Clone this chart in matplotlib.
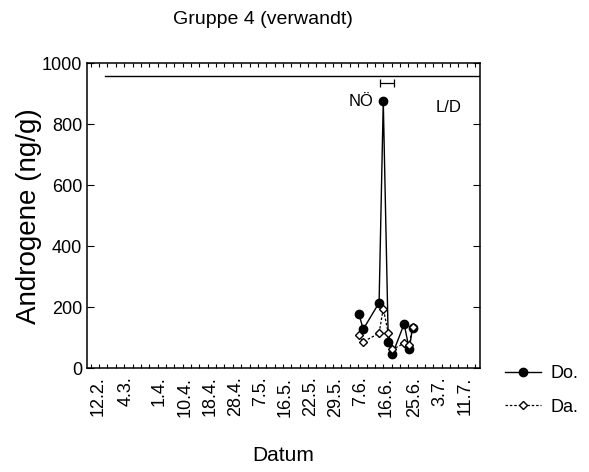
import matplotlib
matplotlib.use("Agg")
import matplotlib.pyplot as plt
from matplotlib.ticker import MultipleLocator

plt.rcParams['font.family'] = ['Liberation Sans', 'DejaVu Sans']

# x axis in sampling units (minor tick = 1 unit), labels are dates
tick_pos = [0.84, 4.2, 8.2, 11.3, 14.3, 17.3, 20.3, 23.3, 26.3, 29.3, 32.3, 35.3, 38.8, 41.8, 44.8]
tick_lab = ['12.2.', '4.3.', '1.4.', '10.4.', '18.4.', '28.4.', '7.5.', '16.5.',
            '22.5.', '29.5.', '7.6.', '16.6.', '25.6.', '3.7.', '11.7.']

x_days = [32.1, 32.6, 34.5, 35.0, 35.6, 36.1, 37.5, 38.1, 38.5]
do_vals = [177, 128, 215, 876, 86, 46, 146, 62, 132]
da_vals = [109, 87, 115, 196, 115, 62, 82, 77, 134]

line_y = 958
line_x0 = 1.7
err_x = [34.56, 36.32]
err_y = 937

fig = plt.figure(figsize=(5.89, 4.72), dpi=100)
ax = fig.add_axes([0.1477, 0.2197, 0.8153 - 0.1477, 0.8655 - 0.2197])

ax.plot(x_days, do_vals, '-o', color='black', lw=1.0, ms=6,
        mfc='black', mec='black', label='Do.', zorder=3)
ax.plot(x_days, da_vals, linestyle=(0, (2, 1.5)), marker='D', color='black', lw=0.9,
        ms=4, mfc='white', mec='black', mew=1.0, label='Da.', zorder=4)

ax.plot([line_x0, 47], [line_y, line_y], color='black', lw=1.0)
ax.errorbar([(err_x[0] + err_x[1]) / 2], [err_y], xerr=[(err_x[1] - err_x[0]) / 2],
            color='black', lw=0.9, capsize=3, capthick=0.9, fmt='none')

ax.text(33.8, 876, 'NÖ', ha='right', va='center', fontsize=12)
ax.text(42.8, 855, 'L/D', ha='center', va='center', fontsize=12)

ax.set_xlim(-0.45, 46.6)
ax.set_ylim(0, 1000)
ax.set_yticks([0, 200, 400, 600, 800, 1000])
ax.set_xticks(tick_pos)
ax.set_xticklabels(tick_lab, rotation=90, fontsize=13)
ax.xaxis.set_minor_locator(MultipleLocator(1))
ax.tick_params(axis='x', which='major', length=0, pad=6)
ax.tick_params(axis='x', which='minor', direction='in', length=3, top=True, bottom=True, width=0.8)
ax.tick_params(axis='y', which='major', direction='in', length=5, left=True, right=True,
               labelsize=13, width=0.8)
for sp in ax.spines.values():
    sp.set_linewidth(1.1)

ax.set_ylabel('Androgene (ng/g)', fontsize=20, labelpad=0)
ax.set_xlabel('Datum', fontsize=15, labelpad=21)
fig.text(263 / 589, 1 - 20 / 472, 'Gruppe 4 (verwandt)', ha='center', va='center', fontsize=14)

fig.legend(loc='upper left', bbox_to_anchor=(489 / 589, 1 - 349 / 472), frameon=False,
           fontsize=13, handlelength=2.0, labelspacing=0.9, handletextpad=0.5)

fig.savefig('out.png', dpi=100)
